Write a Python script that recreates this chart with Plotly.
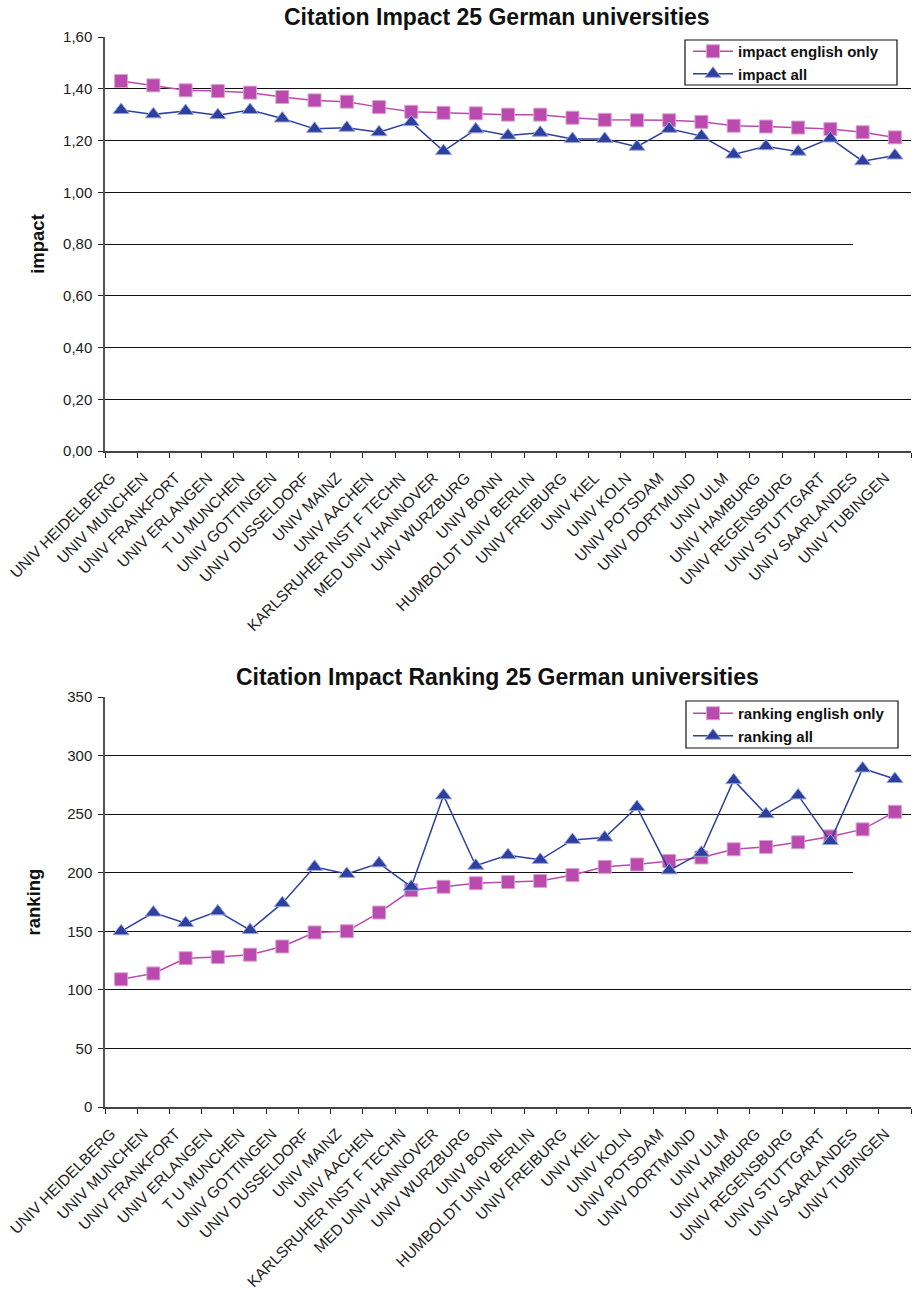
import plotly.graph_objects as go

universities = [
    "UNIV HEIDELBERG", "UNIV MUNCHEN", "UNIV FRANKFORT", "UNIV ERLANGEN", "T U MUNCHEN",
    "UNIV GOTTINGEN", "UNIV DUSSELDORF", "UNIV MAINZ", "UNIV AACHEN", "KARLSRUHER INST F TECHN",
    "MED UNIV HANNOVER", "UNIV WURZBURG", "UNIV BONN", "HUMBOLDT UNIV BERLIN", "UNIV FREIBURG",
    "UNIV KIEL", "UNIV KOLN", "UNIV POTSDAM", "UNIV DORTMUND", "UNIV ULM",
    "UNIV HAMBURG", "UNIV REGENSBURG", "UNIV STUTTGART", "UNIV SAARLANDES", "UNIV TUBINGEN",
]

impact_english_only = [1.430, 1.413, 1.394, 1.391, 1.385, 1.368, 1.355, 1.350, 1.329, 1.311,
                       1.307, 1.305, 1.300, 1.300, 1.288, 1.280, 1.278, 1.278, 1.272, 1.257,
                       1.254, 1.250, 1.244, 1.232, 1.212]
impact_all = [1.318, 1.301, 1.314, 1.298, 1.318, 1.285, 1.245, 1.249, 1.232, 1.271,
              1.159, 1.243, 1.219, 1.230, 1.206, 1.206, 1.176, 1.245, 1.217, 1.146,
              1.178, 1.157, 1.208, 1.120, 1.142]

ranking_english_only = [109, 114, 127, 128, 130, 137, 149, 150, 166, 185,
                        188, 191, 192, 193, 198, 205, 207, 210, 213, 220,
                        222, 226, 231, 237, 252]
ranking_all = [150, 166, 157, 167, 151, 174, 205, 199, 208, 188,
               266, 206, 215, 211, 228, 230, 256, 202, 217, 279,
               250, 266, 227, 289, 280]

impact_ticks = [0.0, 0.2, 0.4, 0.6, 0.8, 1.0, 1.2, 1.4, 1.6]
ranking_ticks = [0, 50, 100, 150, 200, 250, 300, 350]

MAGENTA = "#BA4AAE"
BLUE = "#2C409F"
FONT = "Liberation Sans, Arial, sans-serif"
W, H = 914, 1291

fig = go.Figure()

def add_pair(xa, ya, leg, y1, y2, n1, n2):
    fig.add_trace(go.Scatter(
        x=universities, y=y1, name=n1, mode="lines+markers",
        xaxis=xa, yaxis=ya, legend=leg,
        line=dict(color=MAGENTA, width=1.5),
        marker=dict(symbol="square", size=13, color=MAGENTA,
                    line=dict(color="#D9A0D2", width=1)),
    ))
    fig.add_trace(go.Scatter(
        x=universities, y=y2, name=n2, mode="lines+markers",
        xaxis=xa, yaxis=ya, legend=leg,
        line=dict(color=BLUE, width=1.5),
        marker=dict(symbol="triangle-up", size=14, color=BLUE,
                    line=dict(color="#9AA3D6", width=1)),
    ))

add_pair("x", "y", "legend", impact_english_only, impact_all, "impact english only", "impact all")
add_pair("x2", "y2", "legend2", ranking_english_only, ranking_all, "ranking english only", "ranking all")

xdom = [105 / W, 911 / W]
top_dom = [1 - 451 / H, 1 - 37 / H]
bot_dom = [1 - 1107 / H, 1 - 697 / H]

xaxis_common = dict(
    type="category", range=[-0.5, 24.5], domain=xdom, automargin=False,
    tickson="boundaries", ticks="outside", ticklen=5, tickcolor="#222",
    tickangle=-45, tickfont=dict(family=FONT, size=15.5, color="#222"),
    ticklabelstandoff=10, ticklabelshift=-10,
    showline=True, linecolor="#444", linewidth=1.5, showgrid=False,
    zeroline=False,
)
yaxis_common = dict(
    ticks="outside", ticklen=5, tickcolor="#222", automargin=False,
    tickfont=dict(family=FONT, size=15, color="#222"), ticklabelstandoff=3,
    showline=True, linecolor="#555", linewidth=1.5,
    showgrid=True, gridcolor="#111", gridwidth=1, zeroline=False,
)

def px_x(v):
    return v / W

def px_y(v):
    return 1 - v / H

legend_style = dict(xanchor="left", yanchor="top", bgcolor="rgba(0,0,0,0)", borderwidth=0,
                    font=dict(family=FONT, size=15, color="#111", weight="bold"),
                    itemwidth=40, tracegroupgap=0)

fig.update_layout(
    width=W, height=H,
    margin=dict(l=0, r=0, t=0, b=0, autoexpand=False),
    paper_bgcolor="white", plot_bgcolor="white",
    separators=",.",
    font=dict(family=FONT, color="#222"),
    xaxis=dict(anchor="y", **xaxis_common),
    xaxis2=dict(anchor="y2", **xaxis_common),
    yaxis=dict(anchor="x", domain=top_dom, range=[0, 1.6], tickvals=impact_ticks,
               tickformat=".2f",
               title=dict(text="<b>impact</b>", font=dict(family=FONT, size=18.5, color="#111"),
                          standoff=14),
               **yaxis_common),
    yaxis2=dict(anchor="x2", domain=bot_dom, range=[0, 350], tickvals=ranking_ticks,
                title=dict(text="<b>ranking</b>", font=dict(family=FONT, size=18.5, color="#111"),
                           standoff=22),
                **yaxis_common),
    legend=dict(x=px_x(688), y=px_y(35), **legend_style),
    legend2=dict(x=px_x(688), y=px_y(697), **legend_style),
    showlegend=True,
    shapes=[
        dict(type="rect", xref="paper", yref="paper", x0=px_x(685), x1=px_x(897),
             y0=px_y(85), y1=px_y(40), fillcolor="white", line=dict(color="#111", width=1.2),
             layer="above"),
        dict(type="rect", xref="paper", yref="paper", x0=px_x(686), x1=px_x(898),
             y0=px_y(748), y1=px_y(701), fillcolor="white", line=dict(color="#111", width=1.2),
             layer="above"),
        dict(type="line", xref="paper", yref="y", x0=px_x(853), x1=px_x(912),
             y0=0.8, y1=0.8, line=dict(color="white", width=3), layer="above"),
        dict(type="line", xref="paper", yref="y2", x0=px_x(853), x1=px_x(912),
             y0=200, y1=200, line=dict(color="white", width=3), layer="above"),
    ],
    annotations=[
        dict(text="<b>Citation Impact 25 German universities</b>", x=497 / W, y=1 - 17 / H,
             xref="paper", yref="paper", xanchor="center", yanchor="middle",
             showarrow=False, font=dict(family=FONT, size=23, color="#111")),
        dict(text="<b>Citation Impact Ranking 25 German universities</b>", x=497 / W, y=1 - 677 / H,
             xref="paper", yref="paper", xanchor="center", yanchor="middle",
             showarrow=False, font=dict(family=FONT, size=23, color="#111")),
    ],
)

fig.write_html("out.html", config={"displayModeBar": False},
               post_script="document.body.style.margin='0';document.body.style.overflow='hidden';")
